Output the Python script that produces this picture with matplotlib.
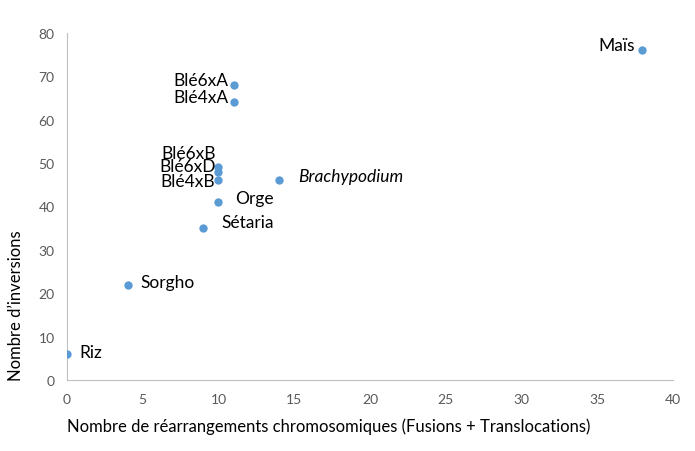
import matplotlib.pyplot as plt

plt.rcParams['font.family'] = ['Lato', 'DejaVu Sans']

names = ['Riz', 'Sorgho', 'Sétaria', 'Orge', 'Blé4xB', 'Blé6xD', 'Blé6xB',
         'Blé4xA', 'Blé6xA', 'Brachypodium', 'Maïs']
rearr = [0, 4, 9, 10, 10, 10, 10, 11, 11, 14, 38]
inversions = [6, 22, 35, 41, 46, 48, 49, 64, 68, 46, 76]

# label offsets in pixels (dx, dy) and alignment
offsets = {
    'Riz': (12, 2, 'left'),
    'Sorgho': (13, 3, 'left'),
    'Sétaria': (18, 6, 'left'),
    'Orge': (17, 4, 'left'),
    'Blé4xB': (-3, -1, 'right'),
    'Blé6xD': (-3, 6, 'right'),
    'Blé6xB': (-3, 14, 'right'),
    'Blé4xA': (-5, 5, 'right'),
    'Blé6xA': (-5, 5, 'right'),
    'Brachypodium': (19, 4, 'left'),
    'Maïs': (-8, 5, 'right'),
}

fig = plt.figure(figsize=(6.95, 4.52), dpi=100)
ax = fig.add_axes([0.0964, 0.157, 0.8716, 0.768])
ax.scatter(rearr, inversions, s=36, color='#5B9BD5', zorder=3, linewidths=0)

for n, x, y in zip(names, rearr, inversions):
    dx, dy, ha = offsets[n]
    ax.annotate(n, (x, y), xytext=(dx, dy), textcoords='offset pixels',
                ha=ha, va='center', fontsize=12.5, color='#000000',
                style='italic' if n == 'Brachypodium' else 'normal')

ax.set_xlim(0, 40)
ax.set_ylim(0, 80)
ax.set_xticks(range(0, 41, 5))
ax.set_yticks(range(0, 81, 10))
ax.tick_params(length=0, labelsize=10, labelcolor='#595959', pad=9)
for s in ['top', 'right']:
    ax.spines[s].set_visible(False)
for s in ['left', 'bottom']:
    ax.spines[s].set_color('#BFBFBF')
ax.set_xlabel('Nombre de réarrangements chromosomiques (Fusions + Translocations)',
              fontsize=12, labelpad=9, loc='left')
ax.set_ylabel('Nombre d\u2019inversions', fontsize=12, labelpad=10, loc='bottom')

fig.savefig('out.png', dpi=100)
